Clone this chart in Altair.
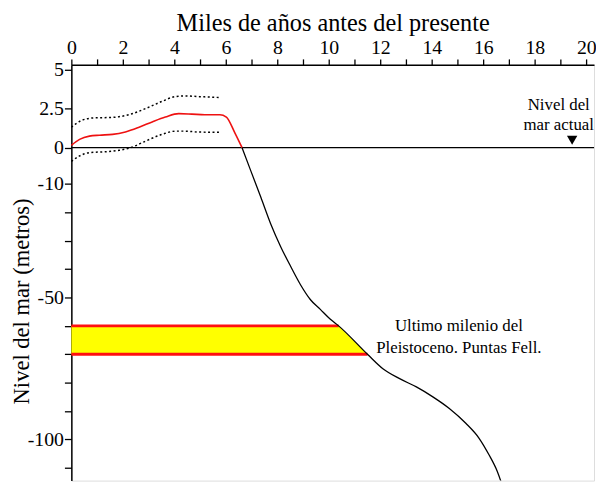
import altair as alt
import pandas as pd

# ---- data ----
# mean curve (red), thousands of years BP vs metres
mean_ka = [0.0, 0.32, 0.7, 1.09, 1.6, 2.1, 2.63, 3.14, 3.65, 4.17, 4.68, 5.18, 5.77, 6.02, 6.35, 6.63]
mean_m = [0.15, 0.53, 0.74, 0.8, 0.85, 1.01, 1.31, 1.65, 1.96, 2.18, 2.15, 2.11, 2.11, 1.96, 0.95, 0.0]

# older curve (black)
curve_ka = [6.63, 6.97, 7.36, 7.74, 8.13, 8.52, 8.9, 9.28, 9.67, 10.06, 10.38, 11.5, 12.1, 12.75,
            13.4, 14.04, 14.68, 15.32, 15.83, 16.22, 16.54, 16.86]
curve_m = [0.0, -6.4, -14.7, -24.0, -32.1, -39.1, -45.5, -50.7, -54.2, -57.7, -60.0, -70.0, -75.1,
           -78.6, -81.5, -85.0, -89.1, -94.3, -99.5, -105.4, -111.2, -119.7]

# dotted envelope
upper_ka = [0.0, 0.38, 0.83, 1.6, 2.24, 2.88, 3.52, 4.04, 4.42, 4.93, 5.77]
upper_m = [1.31, 1.73, 1.9, 1.94, 2.11, 2.5, 2.96, 3.27, 3.31, 3.27, 3.21]
lower_ka = [0.0, 0.32, 0.7, 1.35, 1.86, 2.3, 2.88, 3.52, 4.04, 4.42, 4.93, 5.77]
lower_m = [-3.8, -2.27, -1.37, -1.1, -0.72, 0.0, 0.42, 0.85, 1.06, 1.06, 1.0, 0.99]

# Pleistocene band (last millennium)
band_m = [-60, -70]
band_ka = [10.38, 11.5]

# axis ticks
x_ticks = list(range(0, 21))
y_ticks = [5, 2.5, 0, -10, -20, -30, -40, -50, -60, -70, -80, -90, -100, -110]
y_labels = [5, 2.5, 0, -10, -50, -100]

# annotations
ann_text = ["Nivel del", "mar actual", "Ultimo milenio del", "Pleistoceno. Puntas Fell."]
ann_ka = [18.93, 18.93, 15.05, 15.05]
ann_m = [2.75, 1.44, -60.0, -67.9]
marker_ka = [19.45]
marker_m = [0.47]

FONT = "Liberation Serif"

mean_df = pd.DataFrame({"ka": mean_ka, "m": mean_m})
curve_df = pd.DataFrame({"ka": curve_ka, "m": curve_m})
up_df = pd.DataFrame({"ka": upper_ka, "m": upper_m})
lo_df = pd.DataFrame({"ka": lower_ka, "m": lower_m})
band_df = pd.DataFrame({"m": band_m, "ka": band_ka, "ka0": [0, 0]})
ann_df = pd.DataFrame({"t": ann_text, "ka": ann_ka, "m": ann_m})
mk_df = pd.DataFrame({"ka": marker_ka, "m": marker_m})

xscale = alt.Scale(domain=[0, 20.3], nice=False, zero=False)
yscale = alt.Scale(domain=[-114.5, -10, 0, 5.3], range=[420, 120.3, 83.7, 0], nice=False, zero=False)

ylab_list = ", ".join(str(v) for v in y_labels)

xaxis = alt.Axis(
    orient="top", values=x_ticks, tickCount=100, title="Miles de años antes del presente",
    labelExpr="datum.value % 2 == 0 ? '' + datum.value : ''",
    labelFont=FONT, labelFontSize=20, labelColor="black", labelPadding=1,
    labelOverlap=False, labelFlush=False, labelBound=False,
    tickSize=6, tickColor="black", tickWidth=1.3, domainColor="black", domainWidth=1.5,
    grid=False, titleFont=FONT, titleFontSize=24.5, titleFontWeight="normal", titleColor="black",
    titleX=264, titleY=-35, titleBaseline="alphabetic", titleAlign="center",
)
yaxis = alt.Axis(
    orient="left", values=y_ticks, tickCount=100, title="Nivel del mar (metros)",
    labelExpr="indexof([" + ylab_list + "], datum.value) >= 0 ? '' + datum.value : ''",
    labelFont=FONT, labelFontSize=20, labelColor="black", labelPadding=1,
    labelOverlap=False, labelFlush=False, labelBound=False,
    tickSize=7, tickColor="black", tickWidth=1.3, domainColor="black", domainWidth=1.5,
    grid=False, titleFont=FONT, titleFontSize=22.8, titleFontWeight="normal", titleColor="black",
    titleX=-50, titleY=238.5, titleAngle=270, titleAlign="center", titleBaseline="middle",
)

band = alt.Chart(band_df).mark_area(orient="horizontal", color="#ffff00").encode(
    y=alt.Y("m:Q", scale=yscale, axis=yaxis),
    x=alt.X("ka:Q", scale=xscale, axis=xaxis),
    x2="ka0:Q",
)
band_edges = alt.Chart(band_df).mark_rule(color="#ff1010", strokeWidth=3).encode(
    y=alt.Y("m:Q", axis=yaxis), x=alt.X("ka0:Q", axis=xaxis), x2="ka:Q"
)
zero = alt.Chart(pd.DataFrame({"m": [0]})).mark_rule(color="black", strokeWidth=1.3).encode(
    y=alt.Y("m:Q", axis=yaxis)
)


def line(df, **kw):
    return alt.Chart(df).mark_line(interpolate="monotone", **kw).encode(
        x=alt.X("ka:Q", axis=xaxis), y=alt.Y("m:Q", axis=yaxis)
    )


up = line(up_df, color="black", strokeWidth=1.5, strokeDash=[2, 2.5])
lo = line(lo_df, color="black", strokeWidth=1.5, strokeDash=[2, 2.5])
mean = line(mean_df, color="#ee1111", strokeWidth=1.6)
curve = line(curve_df, color="black", strokeWidth=1.3, clip=True)

ann = alt.Chart(ann_df).mark_text(font=FONT, fontSize=17, color="black", baseline="middle",
                                  align="center").encode(
    x=alt.X("ka:Q", axis=xaxis), y=alt.Y("m:Q", axis=yaxis), text="t:N")
marker = alt.Chart(mk_df).mark_point(shape="triangle-down", filled=True, color="black", size=110,
                                     opacity=1).encode(
    x=alt.X("ka:Q", axis=xaxis), y=alt.Y("m:Q", axis=yaxis))

chart = alt.layer(band, band_edges, zero, up, lo, mean, curve, ann, marker).properties(
    width=528, height=420,
    autosize=alt.AutoSizeParams(type="none"),
    padding={"left": 64, "top": 55, "right": 2, "bottom": 0},
).configure_view(stroke=None).configure(background="white").configure_axis(
    labelFont=FONT, titleFont=FONT
)

chart.save("out.html", embed_options={"renderer": "svg", "actions": False})
